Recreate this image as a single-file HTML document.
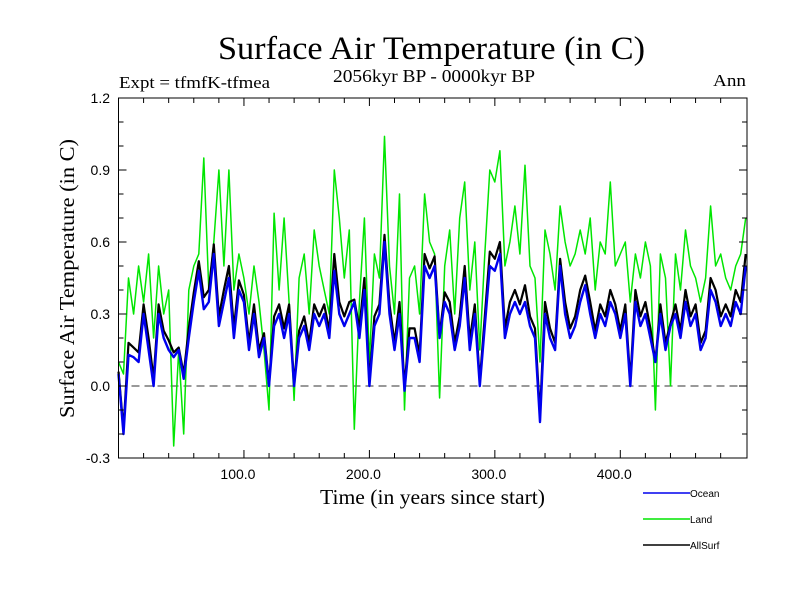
<!DOCTYPE html>
<html><head><meta charset="utf-8"><style>
html,body{margin:0;padding:0;background:#fff;}
svg{display:block;font-family:"Liberation Serif",serif;}
.leg{font-family:"Liberation Sans",sans-serif;font-size:10px;}
.tick{font-family:"Liberation Sans",sans-serif;}
</style></head><body>
<svg id="chart" width="800" height="600" xmlns="http://www.w3.org/2000/svg">
<text x="218" y="59" font-size="33" textLength="427" lengthAdjust="spacingAndGlyphs">Surface Air Temperature (in C)</text>
<text x="333" y="82" font-size="18" textLength="202" lengthAdjust="spacingAndGlyphs">2056kyr BP - 0000kyr BP</text>
<text x="119" y="88" font-size="17" textLength="151" lengthAdjust="spacingAndGlyphs">Expt = tfmfK-tfmea</text>
<text x="713" y="86" font-size="17" textLength="33" lengthAdjust="spacingAndGlyphs">Ann</text>
<text x="320" y="504" font-size="21" textLength="225" lengthAdjust="spacingAndGlyphs">Time (in years since start)</text>
<text transform="translate(74,418) rotate(-90)" font-size="21" textLength="279" lengthAdjust="spacingAndGlyphs">Surface Air Temperature (in C)</text>
<g id="plot"></g>
<g id="legend"></g>
</svg>
<script>
const years = [];
for (let i = 0; i <= 125; i++) years.push(i * 4);
const ocean = [0.05,-0.2,0.13,0.12,0.10,0.30,0.15,0.0,0.30,0.20,0.15,0.12,0.15,0.03,0.20,0.35,0.48,0.32,0.35,0.55,0.25,0.35,0.45,0.20,0.40,0.35,0.15,0.30,0.12,0.20,0.0,0.25,0.30,0.20,0.30,0.0,0.20,0.25,0.15,0.30,0.25,0.30,0.20,0.48,0.30,0.25,0.30,0.35,0.20,0.40,0.0,0.25,0.30,0.60,0.30,0.15,0.30,-0.02,0.20,0.20,0.10,0.50,0.45,0.50,0.20,0.35,0.30,0.15,0.25,0.45,0.15,0.30,0.0,0.25,0.50,0.48,0.55,0.20,0.30,0.35,0.30,0.35,0.25,0.20,-0.15,0.30,0.20,0.15,0.50,0.30,0.20,0.25,0.35,0.42,0.30,0.20,0.30,0.25,0.35,0.30,0.20,0.30,0.0,0.35,0.25,0.30,0.20,0.10,0.30,0.15,0.25,0.30,0.20,0.35,0.25,0.30,0.15,0.20,0.40,0.35,0.25,0.30,0.25,0.35,0.30,0.50];
const land = [0.10,0.05,0.45,0.30,0.50,0.35,0.55,0.20,0.50,0.30,0.40,-0.25,0.15,-0.20,0.40,0.50,0.55,0.95,0.40,0.60,0.90,0.50,0.90,0.40,0.55,0.45,0.30,0.50,0.35,0.15,-0.10,0.72,0.40,0.70,0.35,-0.06,0.45,0.55,0.30,0.65,0.50,0.40,0.30,0.90,0.70,0.45,0.65,-0.18,0.35,0.70,0.10,0.55,0.45,1.04,0.50,0.30,0.80,-0.10,0.45,0.50,0.30,0.80,0.60,0.55,-0.05,0.50,0.65,0.30,0.70,0.85,0.40,0.60,0.15,0.55,0.90,0.85,0.98,0.50,0.60,0.75,0.55,0.92,0.50,0.45,0.10,0.65,0.55,0.40,0.75,0.60,0.50,0.55,0.65,0.55,0.70,0.40,0.60,0.55,0.85,0.50,0.55,0.60,0.35,0.55,0.45,0.60,0.50,-0.10,0.55,0.45,0.00,0.55,0.40,0.65,0.50,0.45,0.35,0.45,0.75,0.50,0.55,0.45,0.40,0.50,0.55,0.70];
const allsurf = [0.06,-0.18,0.18,0.16,0.14,0.34,0.20,0.03,0.34,0.23,0.19,0.14,0.16,0.05,0.24,0.39,0.52,0.37,0.40,0.59,0.29,0.40,0.50,0.24,0.44,0.38,0.18,0.34,0.15,0.22,0.01,0.29,0.34,0.24,0.34,0.01,0.23,0.29,0.18,0.34,0.29,0.34,0.23,0.55,0.35,0.29,0.35,0.36,0.24,0.45,0.02,0.29,0.34,0.63,0.34,0.18,0.35,0.0,0.24,0.24,0.13,0.55,0.49,0.54,0.21,0.39,0.35,0.18,0.29,0.50,0.19,0.34,0.02,0.29,0.56,0.53,0.60,0.24,0.35,0.40,0.34,0.42,0.29,0.24,-0.12,0.35,0.24,0.18,0.53,0.35,0.24,0.29,0.40,0.46,0.35,0.23,0.34,0.29,0.40,0.34,0.23,0.34,0.02,0.40,0.29,0.35,0.24,0.10,0.34,0.18,0.26,0.34,0.23,0.40,0.29,0.34,0.18,0.23,0.45,0.40,0.29,0.34,0.29,0.40,0.35,0.55];
const yTicks = [-0.3, 0.0, 0.3, 0.6, 0.9, 1.2];
const yTickLabels = ["-0.3","0.0","0.3","0.6","0.9","1.2"];
const xTicks = [100, 200, 300, 400];
const xTickLabels = ["100.0","200.0","300.0","400.0"];

const NS = "http://www.w3.org/2000/svg";
const L = 118.5, R = 747, T = 98, B = 458;
const xMin = 0, xMax = 501, yMin = -0.3, yMax = 1.2;
const xs = v => L + (v - xMin) / (xMax - xMin) * (R - L);
const ys = v => B - (v - yMin) / (yMax - yMin) * (B - T);
const plot = document.getElementById('plot');
function mk(tag, attrs, parent) {
  const e = document.createElementNS(NS, tag);
  for (const k in attrs) e.setAttribute(k, attrs[k]);
  parent.appendChild(e);
  return e;
}
const zl = mk('line', {x1: L, x2: R, y1: ys(0), y2: ys(0), stroke: '#333', 'stroke-width': 1, 'stroke-dasharray': '8,5'}, plot);


function series(vals, color, w, name) {
  const d = vals.map((v, i) => (i ? 'L' : 'M') + xs(years[i]).toFixed(1) + ',' + ys(v).toFixed(1)).join(' ');
  const p = mk('path', {d: d, fill: 'none', stroke: color, 'stroke-width': w, 'stroke-linejoin': 'round'}, plot);
  
  
}
series(land, '#00e600', 1.5, 'land-series');
series(allsurf, '#000', 2.2, 'allsurf-series');
series(ocean, '#0000ee', 2.4, 'ocean-series');
const fr = mk('rect', {x: L, y: T, width: R - L, height: B - T, fill: 'none', stroke: '#000', 'stroke-width': 1}, plot);


for (let v = 20; v < 500; v += 20) {
  const major = v % 100 === 0, len = major ? 8 : 5;
  mk('line', {x1: xs(v), x2: xs(v), y1: B, y2: B - len, stroke: '#000'}, plot);
  mk('line', {x1: xs(v), x2: xs(v), y1: T, y2: T + len, stroke: '#000'}, plot);
}
xTicks.forEach((v, i) => {
  const t = mk('text', {x: xs(v) - 6, y: 479, 'font-size': 14, 'text-anchor': 'middle', class: 'tick'}, plot);
  t.textContent = xTickLabels[i];
  
  
});
for (let k = -2; k <= 11; k++) {
  const v = k / 10, major = k % 3 === 0, len = major ? 8 : 5;
  mk('line', {x1: L, x2: L + len, y1: ys(v), y2: ys(v), stroke: '#000'}, plot);
  mk('line', {x1: R, x2: R - len, y1: ys(v), y2: ys(v), stroke: '#000'}, plot);
}
yTicks.forEach((v, i) => {
  const t = mk('text', {x: 110, y: ys(v) + 5, 'font-size': 14, 'text-anchor': 'end', class: 'tick'}, plot);
  t.textContent = yTickLabels[i];
  
  
});
const leg = document.getElementById('legend');
const legNames = ['Ocean', 'Land', 'AllSurf'];
const legColors = ['#0000ee', '#00e600', '#000'];
legNames.forEach((n, i) => {
  const y = 493 + i * 26;
  const g = mk('g', {}, leg);
  
  
  mk('line', {x1: 643, x2: 690, y1: y, y2: y, stroke: legColors[i], 'stroke-width': 1.5}, g);
  const t = mk('text', {x: 690, y: y + 4, class: 'leg'}, g);
  t.textContent = n;
});
</script>
</body></html>
